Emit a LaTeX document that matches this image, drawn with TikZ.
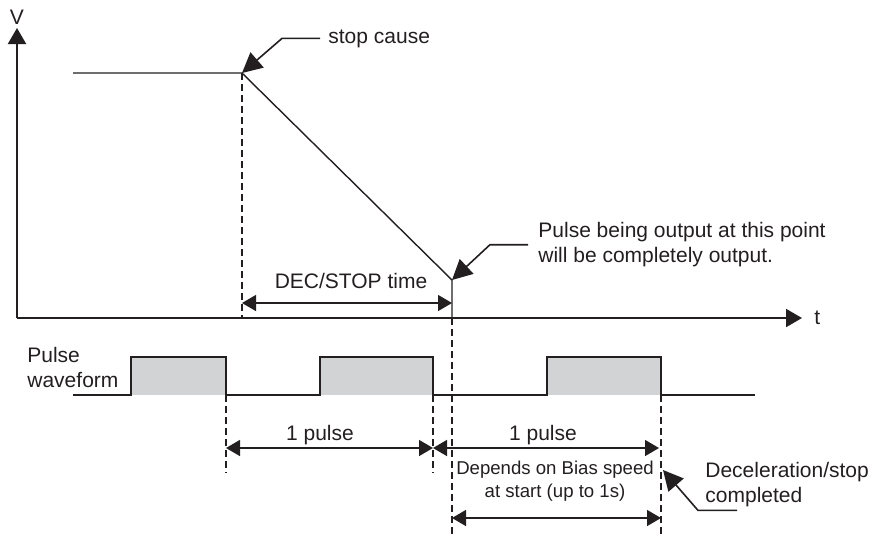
\documentclass[tikz,border=0pt]{standalone}
\usepackage{fontspec}
\setmainfont{Liberation Sans}
\usetikzlibrary{arrows.meta,positioning,calc}
\definecolor{inkdark}{RGB}{35,31,32}
\definecolor{pulsegray}{RGB}{210,211,213}
\tikzset{
  axisline/.style={-{Triangle[length=8pt,width=9pt]},line width=1pt,color=inkdark},
  speedline/.style={line width=0.7pt,color=inkdark},
  guideline/.style={dash pattern=on 3.5pt off 2pt,line width=0.55pt,color=inkdark},
  wavefill/.style={fill=pulsegray,draw=none},
  waveline/.style={line width=1pt,color=inkdark},
  dimarr/.style={{Triangle[length=7pt,width=8pt]}-{Triangle[length=7pt,width=8pt]},line width=0.7pt,color=inkdark},
  callarr/.style={-{Triangle[length=10pt,width=10pt]},line width=0.8pt,color=inkdark},
  lbl/.style={font=\fontsize{10.5}{12.5}\selectfont,text=inkdark,inner sep=0pt,align=left},
  smalllbl/.style={font=\fontsize{9.3}{11.5}\selectfont,text=inkdark,inner sep=0pt,align=center}
}

\begin{document}
\begin{tikzpicture}[x=0.5pt,y=-0.5pt]
  \useasboundingbox (0,0) rectangle (872,538);

  % axes
  \coordinate (origin) at (17,318);
  \coordinate (vtip) at (17,28);
  \coordinate (ttip) at (802,318);
  \draw[axisline] (origin) -- (vtip);
  \draw[axisline] (origin) -- (ttip);
  \node[lbl] (vlabel) at (17,17) {V};
  \node[lbl,anchor=west] (tlabel) at (814,318) {t};

  % speed curve
  \coordinate (runstart) at (73,73);
  \coordinate (stoppt) at (242,73);
  \coordinate (decend) at (452,280);
  \coordinate (decfoot) at (452,318);
  \draw[speedline] (runstart) -- (stoppt) -- (decend) -- (decfoot);

  % pulse waveform
  \foreach \rise/\fall in {131/226,320/433,547/661}
    \fill[wavefill] (\rise,357) rectangle (\fall,395);
  \draw[waveline] (73,395) -- (131,395) -- (131,357) -- (226,357) -- (226,395)
    -- (320,395) -- (320,357) -- (433,357) -- (433,395)
    -- (547,395) -- (547,357) -- (661,357) -- (661,395) -- (755,395);
  \coordinate (fallA) at (226,395);
  \coordinate (fallB) at (433,395);
  \coordinate (fallC) at (661,395);
  \node[lbl,anchor=north west] (wavelabel) at (27,347) {Pulse\\waveform};

  % guide lines
  \coordinate (stopfoot) at (242,318);
  \coordinate (guideend) at (0,536);
  \coordinate (pulseend) at (0,473);
  \draw[guideline] (stoppt) -- (stopfoot);
  \draw[guideline] (decfoot) -- (decfoot |- guideend);
  \draw[guideline] (fallA) -- (fallA |- pulseend);
  \draw[guideline] (fallB) -- (fallB |- pulseend);
  \draw[guideline] (fallC) -- (fallC |- guideend);

  % dimensions
  \coordinate (decrow) at (0,303);
  \coordinate (pulserow) at (0,448);
  \coordinate (biasrow) at (0,518);
  \coordinate (donerow) at (0,470);
  \draw[dimarr] (stoppt |- decrow) -- (decend |- decrow);
  \node[lbl] (dectime) at (351,281) {DEC/STOP time};
  \draw[dimarr] (fallA |- pulserow) -- (fallB |- pulserow);
  \draw[dimarr] (fallB |- pulserow) -- ([xshift=-1pt]fallC |- pulserow);
  \node[lbl,anchor=base] (pulseone) at (320,440) {1 pulse};
  \node[lbl,anchor=base] (pulsetwo) at (543,440) {1 pulse};
  \draw[dimarr] (decfoot |- biasrow) -- (fallC |- biasrow);
  \node[smalllbl,anchor=north] (biasnote) at (555,461) {Depends on Bias speed\\at start (up to 1s)};

  % callouts
  \node[lbl,anchor=base west] (stopcause) at (328,43) {stop cause};
  \draw[callarr] ([xshift=-4pt]stopcause.west) -- ++(-38,0) -- (stoppt);
  \node[lbl,anchor=north west] (pulsenote) at (538,222)
    {Pulse being output at this point\\will be completely output.};
  \draw[callarr] ([xshift=-5pt]pulsenote.west) -- ++(-38,0) -- (decend);
  \node[lbl,anchor=north west] (stopdone) at (705,462) {Deceleration/stop\\completed};
  \draw[callarr] ([xshift=16pt,yshift=-1.5pt]stopdone.south west) -- ++(-39,0)
    -- ([xshift=1pt]fallC |- donerow);
\end{tikzpicture}
\end{document}
